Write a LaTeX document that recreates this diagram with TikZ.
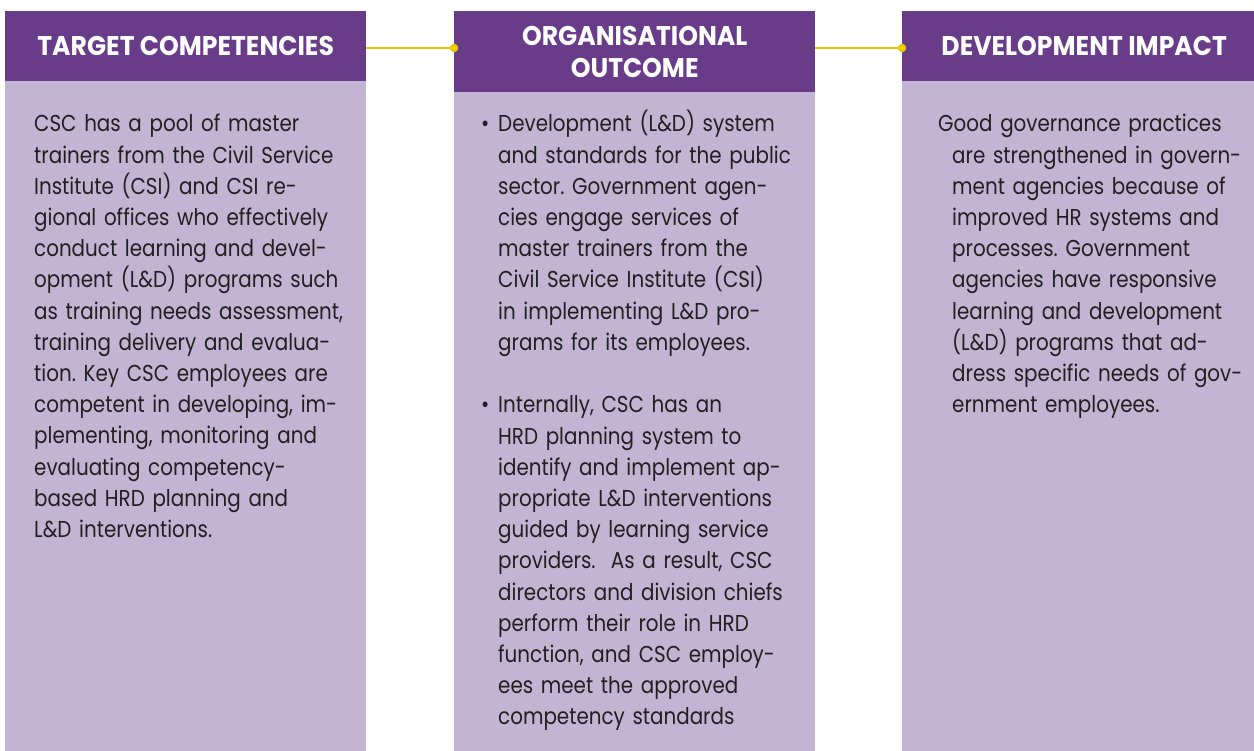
\documentclass[tikz,border=0pt]{standalone}
\usepackage{fontspec}
\setmainfont{Poppins}[FakeStretch=0.865]
\newfontfamily\headfont{Poppins}[FakeStretch=0.93]
\frenchspacing
\definecolor{hdpurple}{HTML}{693C8A}
\definecolor{bodylav}{HTML}{C3B4D3}
\definecolor{linkyellow}{HTML}{EBC700}
\definecolor{inkgray}{HTML}{231F20}
\newcommand{\hangline}{\hspace*{14pt}}
\tikzset{
  colbody/.style={fill=bodylav, draw=none, anchor=north west, inner sep=0pt,
    minimum height=740pt},
  headbox/.style={fill=hdpurple, draw=none, anchor=north west, inner sep=0pt,
    text=white, align=center, font=\headfont\bfseries\fontsize{27}{32}\selectfont},
  bodytext/.style={anchor=base west, inner sep=0pt, text=inkgray, align=left,
    text width=340pt, font=\frenchspacing\fontsize{23}{31.2}\selectfont},
  bulletmark/.style={anchor=base west, inner sep=0pt, text=inkgray,
    font=\fontsize{23}{31.2}\selectfont},
  link/.style={draw=linkyellow, line width=1.5pt},
  linkdot/.style={fill=linkyellow},
}
\begin{document}
\begin{tikzpicture}[x=1pt,y=-1pt]
\useasboundingbox (0,0) rectangle (1254,751);

% column bodies
\node[colbody, minimum width=361pt] (bodyA) at (5,11) {};
\node[colbody, minimum width=361pt] (bodyB) at (454,11) {};
\node[colbody, minimum width=352pt] (bodyC) at (902,11) {};

% column headers
\node[headbox, minimum width=361pt, minimum height=70pt] (hdA) at (5,11) {TARGET COMPETENCIES};
\node[headbox, minimum width=361pt, minimum height=81pt] (hdB) at (454,11) {ORGANISATIONAL\\OUTCOME};
\node[headbox, minimum width=352pt, minimum height=70pt] (hdC) at (902,11) {\hspace*{12pt}DEVELOPMENT IMPACT};

% yellow links between headers
\coordinate (lineY) at (0,48);
\draw[link] (hdA.east |- lineY) -- (hdB.west |- lineY);
\fill[linkdot] (hdB.west |- lineY) circle (4.3pt);
\draw[link] (hdB.east |- lineY) -- (hdC.west |- lineY);
\fill[linkdot] (hdC.west |- lineY) circle (4.3pt);

% body texts
\node[bodytext] (txA) at (34,132) {CSC has a pool of master\\
trainers from the Civil Service\\
Institute (CSI) and CSI re-\\
gional offices who effectively\\
conduct learning and devel-\\
opment (L\&D) programs such\\
as training needs assessment,\\
training delivery and evalua-\\
tion. Key CSC employees are\\
competent in developing, im-\\
plementing, monitoring and\\
evaluating competency-\\
based HRD planning and\\
L\&D interventions.};

\node[bulletmark] (bulB1) at (481,132) {\textbullet};
\node[bodytext] (txB1) at (498,132) {Development (L\&D) system\\
and standards for the public\\
sector. Government agen-\\
cies engage services of\\
master trainers from the\\
Civil Service Institute (CSI)\\
in implementing L\&D pro-\\
grams for its employees.};

\node[bulletmark] (bulB2) at (481,413) {\textbullet};
\node[bodytext] (txB2) at (498,413) {Internally, CSC has an\\
HRD planning system to\\
identify and implement ap-\\
propriate L\&D interventions\\
guided by learning service\\
providers.\ \ As a result, CSC\\
directors and division chiefs\\
perform their role in HRD\\
function, and CSC employ-\\
ees meet the approved\\
competency standards};

\node[bodytext] (txC) at (938,132) {Good governance practices\\
\hangline are strengthened in govern-\\
\hangline ment agencies because of\\
\hangline improved HR systems and\\
\hangline processes. Government\\
\hangline agencies have responsive\\
\hangline learning and development\\
\hangline (L\&D) programs that ad-\\
\hangline dress specific needs of gov-\\
\hangline ernment employees.};
\end{tikzpicture}
\end{document}
